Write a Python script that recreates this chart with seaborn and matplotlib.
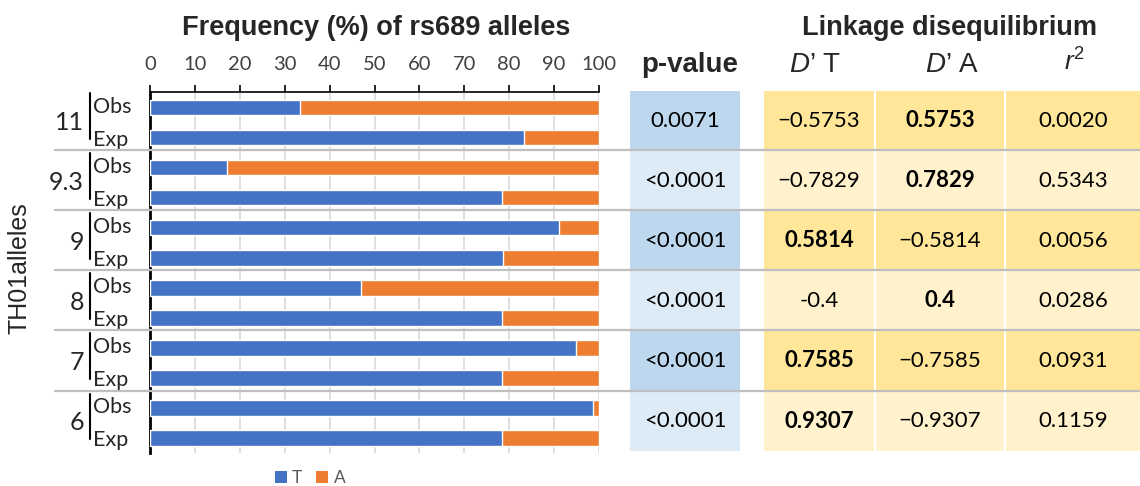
import matplotlib
matplotlib.use("Agg")
import matplotlib.pyplot as plt
import matplotlib.transforms as mtransforms
from matplotlib.lines import Line2D
from matplotlib.patches import Rectangle, Patch
import pandas as pd
import seaborn as sns

# ---- data -------------------------------------------------------------
groups = ["11", "9.3", "9", "8", "7", "6"]
t_obs = [33.3, 17.2, 91.0, 47.1, 94.9, 98.6]
a_obs = [66.7, 82.8, 9.0, 52.9, 5.1, 1.4]
t_exp = [83.3, 78.5, 78.7, 78.5, 78.5, 78.5]
a_exp = [16.7, 21.5, 21.3, 21.5, 21.5, 21.5]
kinds = ["Obs", "Exp"]
x_ticks = [0, 10, 20, 30, 40, 50, 60, 70, 80, 90, 100]

p_values = ["0.0071", "<0.0001", "<0.0001", "<0.0001", "<0.0001", "<0.0001"]
d_t = ["\u22120.5753", "\u22120.7829", "0.5814", "-0.4", "0.7585", "0.9307"]
d_a = ["0.5753", "0.7829", "\u22120.5814", "0.4", "\u22120.7585", "\u22120.9307"]
r2 = ["0.0020", "0.5343", "0.0056", "0.0286", "0.0931", "0.1159"]

# ---- styling ------------------------------------------------------------
sns.set_style("white")
plt.rcParams["font.family"] = ["Lato", "DejaVu Sans"]
plt.rcParams["mathtext.fontset"] = "custom"
plt.rcParams["mathtext.rm"] = "Liberation Sans"
plt.rcParams["mathtext.it"] = "Liberation Sans:italic"

BLUE, ORANGE = "#4472C4", "#ED7D31"
CELL_BLUE = ["#BDD7EE", "#DDEBF7"]
CELL_YELLOW = ["#FFE699", "#FFF2CC"]
SEP = "#BFBFBF"
HEAD = ["Liberation Sans", "DejaVu Sans"]
INK = "#262626"

W, H = 1140, 486
fig = plt.figure(figsize=(W / 100, H / 100), dpi=100)


def fx(px):
    return px / W


def fy(py):
    return 1 - py / H


# ---- long-form table for the stacked bars ------------------------------
rows = []
for g, to, ao, te, ae in zip(groups, t_obs, a_obs, t_exp, a_exp):
    rows.append({"row": f"{g} Obs", "group": g, "kind": "Obs", "T": to, "A": ao})
    rows.append({"row": f"{g} Exp", "group": g, "kind": "Exp", "T": te, "A": ae})
df = pd.DataFrame(rows)
df["T+A"] = df["T"] + df["A"]
order = list(df["row"])

top_px, bot_px = 92.5, 453
ax = fig.add_axes([fx(150), fy(bot_px), fx(599) - fx(150), fy(top_px) - fy(bot_px)])
sns.barplot(data=df, x="T+A", y="row", order=order, color=ORANGE, saturation=1,
            width=0.52, ax=ax, zorder=2)
sns.barplot(data=df, x="T", y="row", order=order, color=BLUE, saturation=1,
            width=0.52, ax=ax, zorder=3)

ax.set_xlim(0, 100)
ax.set_ylim(len(order) - 0.5, -0.5)
ax.set_xlabel("")
ax.set_ylabel("")
ax.xaxis.tick_top()
ax.set_xticks(x_ticks)
ax.set_xticklabels([str(v) for v in x_ticks])
ax.tick_params(axis="x", direction="out", length=5, width=1.2, color="black",
               top=True, bottom=False, labeltop=True, labelbottom=False,
               labelsize=14.5, labelcolor="#404040", pad=9)
ax.tick_params(axis="y", left=False, labelleft=False)
ax.grid(axis="x", color="#D9D9D9", lw=1.2, zorder=0)
ax.grid(axis="y", visible=False)
ax.set_axisbelow(True)
for s in ("right", "bottom"):
    ax.spines[s].set_visible(False)
ax.spines["left"].set_linewidth(2)
ax.spines["left"].set_color("black")
ax.spines["top"].set_linewidth(1.2)
ax.spines["top"].set_color("black")

# ---- row labels: group number, bracket line, Obs / Exp ------------------
lab = mtransforms.blended_transform_factory(fig.transFigure, ax.transData)
for gi, g in enumerate(groups):
    y_obs, y_exp = 2 * gi, 2 * gi + 1
    fig.text(fx(84), (y_obs + y_exp) / 2, g, transform=lab, ha="right", va="center",
             fontsize=18, color=INK)
    fig.add_artist(Line2D([fx(90), fx(90)], [y_obs - 0.48, y_exp + 0.04],
                          transform=lab, color="black", lw=1.5))
    fig.text(fx(93), y_obs - 0.02, kinds[0], transform=lab, ha="left", va="center",
             fontsize=15.5, color=INK)
    fig.text(fx(93), y_exp + 0.08, kinds[1], transform=lab, ha="left", va="center",
             fontsize=15.5, color=INK)

fig.text(fx(20), fy(268), "TH01alleles", rotation=90, ha="center", va="center",
         fontsize=18, family=HEAD, color=INK)
fig.text(fx(376), fy(28), "Frequency (%) of rs689 alleles", ha="center", va="center",
         fontsize=19.5, weight="bold", family=HEAD)

# ---- statistics table ----------------------------------------------------
tax = fig.add_axes([fx(630), fy(bot_px), fx(1140) - fx(630), fy(top_px) - fy(bot_px)],
                   sharey=ax)
tax.set_xlim(630, 1140)
tax.axis("off")

col_edges = [(630, 740), (764, 874), (876, 1004), (1006, 1140)]
columns = [p_values, d_t, d_a, r2]
for gi in range(len(groups)):
    y0 = 2 * gi - 0.55
    y1 = 2 * gi + 1 + 0.42
    shade = gi % 2
    for ci, ((x0, x1), col) in enumerate(zip(col_edges, columns)):
        face = CELL_BLUE[shade] if ci == 0 else CELL_YELLOW[shade]
        tax.add_patch(Rectangle((x0, y0), x1 - x0, y1 - y0, facecolor=face,
                                edgecolor="none", clip_on=False, zorder=1))
        val = col[gi]
        bold = ci in (1, 2) and not val.startswith(("\u2212", "-"))
        tax.text((x0 + x1) / 2, (y0 + y1) / 2, val, ha="center", va="center",
                 fontsize=16, weight="bold" if bold else "normal",
                 color="black", zorder=3, clip_on=False)

# group separators across the whole figure
for gi in range(len(groups) - 1):
    ysep = 2 * gi + 1 + 0.42
    fig.add_artist(Line2D([fx(55), fx(1140)], [ysep, ysep], transform=lab,
                          color=SEP, lw=1.6, zorder=10))

# ---- headers ------------------------------------------------------------
fig.text(fx(950), fy(28), "Linkage disequilibrium", ha="center", va="center",
         fontsize=19.5, weight="bold", family=HEAD)
fig.text(fx(690), fy(65), "p-value", ha="center", va="center",
         fontsize=20, weight="bold", family=HEAD)
fig.text(fx(815), fy(65), "$\\mathit{D}$\u2019 T", ha="center", va="center",
         fontsize=20, family=HEAD)
fig.text(fx(952), fy(65), "$\\mathit{D}$\u2019 A", ha="center", va="center",
         fontsize=20, family=HEAD)
fig.text(fx(1075), fy(62), "$\\mathit{r}^{\\mathrm{2}}$", ha="center", va="center",
         fontsize=19, family=HEAD)

# ---- legend -------------------------------------------------------------
handles = [Patch(facecolor=BLUE, edgecolor="none"),
           Patch(facecolor=ORANGE, edgecolor="none")]
fig.legend(handles, ["T", "A"], loc="center", bbox_to_anchor=(fx(310), fy(478)),
           ncol=2, frameon=False, handlelength=0.7, handleheight=0.7,
           handletextpad=0.3, columnspacing=0.8, fontsize=12.5, labelcolor="#595959")

fig.savefig("out.png", dpi=100)
